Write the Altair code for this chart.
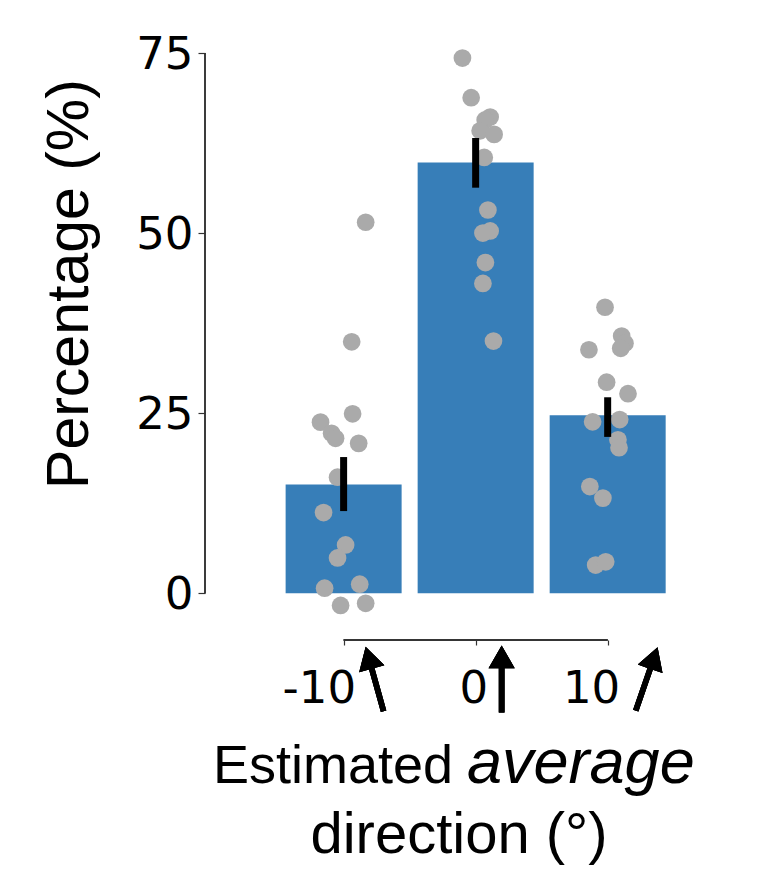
import altair as alt
import pandas as pd

# ---- data ----
conditions = [-10, 0, 10]
tick_labels = ["-10", "0", "10"]
bar_means = [15.1, 59.8, 24.7]
err_low = [11.4, 56.3, 21.7]
err_high = [18.9, 63.2, 27.2]

pts_m10 = [51.5, 34.9, 23.75, 24.9, 22.2, 21.5, 20.8, 16.1, 11.2, 6.7, 4.9, 0.7, 1.25, -1.7, -1.4]
jit_m10 = [1.67, 0.61, -1.75, 0.68, -0.91, -0.61, 1.14, -0.46, -1.52, 0.15, -0.46, -1.44, 1.22, -0.23, 1.67]
pts_0 = [74.3, 68.8, 66.1, 65.7, 64.2, 63.7, 60.5, 53.2, 50.3, 50.0, 45.9, 43.0, 35.0]
jit_0 = [-1.0, -0.34, 1.1, 0.72, 0.34, 1.4, 0.65, 0.93, 1.1, 0.55, 0.74, 0.55, 1.35]
pts_10 = [39.7, 35.7, 34.7, 34.0, 33.8, 29.3, 27.7, 23.8, 24.1, 21.3, 20.2, 14.8, 13.2, 3.9, 4.35]
jit_10 = [-0.2, 1.06, 1.31, 0.99, -1.42, -0.08, 1.54, -1.14, 0.91, 0.78, 0.86, -1.35, -0.36, -0.91, -0.15]

y_ticks = [0, 25, 50, 75]
arrow_angles = [344.5, 0, 19]  # clockwise rotation of the direction arrows

# ---- styling ----
W, H = 470, 587
BAR = "#377eb8"
DOT = "#aaaaaa"
TICKFONT = "DejaVu Sans"
TITLEFONT = "Liberation Sans"

bars_df = pd.DataFrame({"cond": conditions, "mean": bar_means, "lo": err_low, "hi": err_high})
pts_df = pd.DataFrame({
    "cond": [-10] * len(pts_m10) + [0] * len(pts_0) + [10] * len(pts_10),
    "value": pts_m10 + pts_0 + pts_10,
    "jitter": jit_m10 + jit_0 + jit_10,
})

xscale = alt.Scale(domain=[-20.5, 15.1], nice=False, zero=False, padding=0)
yscale = alt.Scale(domain=[-6.5, 75], nice=False, zero=False, padding=0)

bars = alt.Chart(bars_df).mark_bar(size=116, color=BAR).encode(
    x=alt.X("cond:Q", scale=xscale, title=None,
            axis=alt.Axis(values=conditions, labelExpr="datum.value + ''")),
    y=alt.Y("mean:Q", scale=yscale, title=None, axis=alt.Axis(values=y_ticks)),
)

dots = alt.Chart(pts_df).transform_calculate(
    xj="datum.cond + datum.jitter"
).mark_circle(size=314, color=DOT, opacity=1).encode(
    x=alt.X("xj:Q", title=None),
    y=alt.Y("value:Q", title=None),
)

errs = alt.Chart(bars_df).mark_rule(color="black", strokeWidth=7, strokeCap="butt").encode(
    x=alt.X("cond:Q", title=None),
    y=alt.Y("lo:Q", title=None),
    y2="hi:Q",
)

y_spine = alt.Chart(bars_df).mark_rule(color="#333333", strokeWidth=1.3).encode(
    x=alt.value(0), y=alt.datum(y_ticks[0]), y2=alt.datum(y_ticks[-1])
)
x_spine = alt.Chart(bars_df).mark_rule(color="#333333", strokeWidth=1.3).encode(
    y=alt.value(H), x=alt.datum(conditions[0]), x2=alt.datum(conditions[-1])
)

arrow_path = ("M0,-1 L0.39,-0.32 L0.085,-0.32 L0.085,1 L-0.085,1 "
              "L-0.085,-0.32 L-0.39,-0.32 Z")
arrow_dx = [31, 26, 39]
arrows = []
for c, ang, dx in zip(conditions, arrow_angles, arrow_dx):
    arrows.append(
        alt.Chart(bars_df).mark_point(shape=arrow_path, size=4489, filled=True,
                                      color="black", opacity=1, angle=ang,
                                      xOffset=dx, strokeWidth=0).encode(
            x=alt.datum(c), y=alt.value(626)
        )
    )

def txt(s, x, y, size, align="center", angle=0, italic=False):
    return alt.Chart(pd.DataFrame({"t": [s]})).mark_text(
        font=TITLEFONT, fontSize=size, color="black", align=align,
        baseline="alphabetic", angle=angle,
        fontStyle="italic" if italic else "normal",
    ).encode(text="t:N", x=alt.value(x), y=alt.value(y))

titles = [
    txt("Estimated", 248, 730, 54, align="right"),
    txt("average", 262, 730, 63, align="left", italic=True),
    txt("direction (°)", 254, 800, 58),
    txt("Percentage (%)", -117, 231, 59, angle=270),
]

chart = alt.layer(bars, dots, errs, y_spine, x_spine, *arrows, *titles).properties(
    width=W, height=H,
    autosize=alt.AutoSizeParams(type="none"),
    padding={"left": 197, "top": 45, "right": 60, "bottom": 232},
).configure_view(stroke=None).configure_axisX(
    domain=False, grid=False, tickSize=5, tickColor="#333333", tickWidth=1.2,
    labelFont=TICKFONT, labelFontSize=45, labelColor="black",
    labelAlign="right", labelOffset=12, labelPadding=21, labelOverlap=False,
    labelFlush=False,
).configure_axisY(
    domain=False, grid=False, tickSize=7, tickColor="#333333", tickWidth=1.2,
    labelFont=TICKFONT, labelFontSize=45, labelColor="black",
    labelPadding=5, labelOffset=1, labelOverlap=False, labelFlush=False,
)

chart.save("out.html", embed_options={"renderer": "svg", "actions": False})
